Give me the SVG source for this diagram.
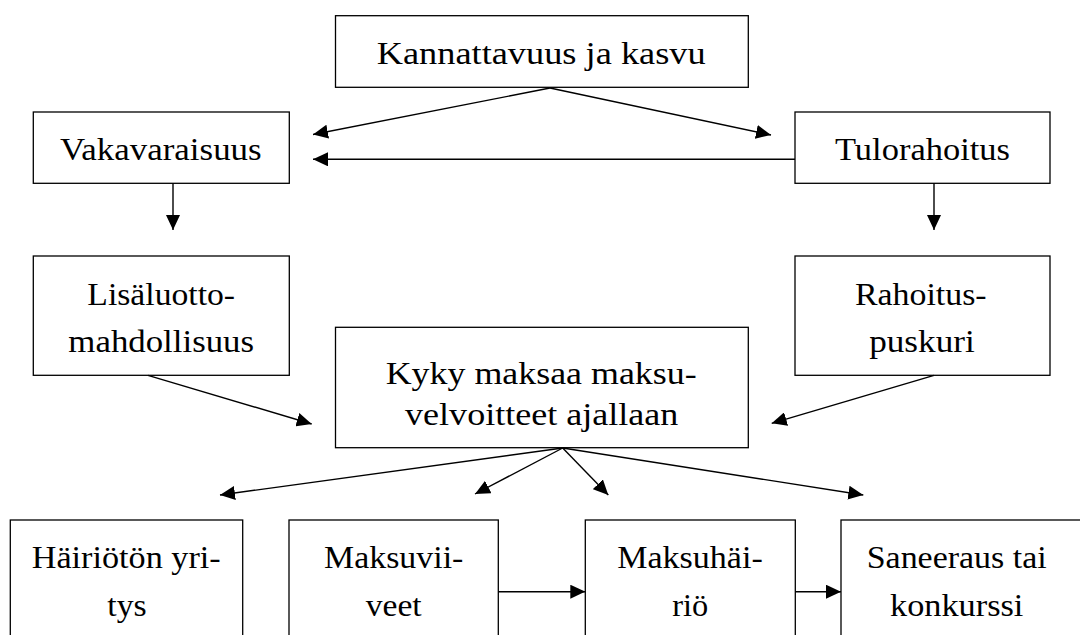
<svg xmlns="http://www.w3.org/2000/svg" width="1080" height="635" viewBox="0 0 1080 635">
<defs>
<marker id="ah" markerWidth="15" markerHeight="14" refX="15" refY="7" orient="auto" markerUnits="userSpaceOnUse">
<path d="M0,0 L15,7 L0,14 Z" fill="#000"/>
</marker>
<style>
.box{fill:#fff;stroke:#000;stroke-width:1.3}
.t{font-family:"Liberation Serif","Times New Roman",serif;font-size:32px;fill:#000;text-anchor:middle}
.c{stroke:#000;stroke-width:1.4;fill:none;marker-end:url(#ah)}
</style>
</defs>
<rect width="1080" height="635" fill="#fff"/>
<g id="n-kannattavuus"><rect class="box" x="335.5" y="15.7" width="412.8" height="71.6"/><text class="t" x="541.2" y="64" textLength="329" lengthAdjust="spacingAndGlyphs">Kannattavuus ja kasvu</text></g>
<g id="n-vakavaraisuus"><rect class="box" x="33.3" y="112" width="256" height="71.3"/><text class="t" x="160.8" y="160" textLength="201.7" lengthAdjust="spacingAndGlyphs">Vakavaraisuus</text></g>
<g id="n-tulorahoitus"><rect class="box" x="795" y="112" width="255" height="71.3"/><text class="t" x="922.5" y="160" textLength="175" lengthAdjust="spacingAndGlyphs">Tulorahoitus</text></g>
<g id="n-lisaluotto"><rect class="box" x="33.3" y="256" width="256" height="119.3"/><text class="t" x="161.2" y="305" textLength="147.7" lengthAdjust="spacingAndGlyphs">Lisäluotto-</text><text class="t" x="161.2" y="351.7" textLength="185.7" lengthAdjust="spacingAndGlyphs">mahdollisuus</text></g>
<g id="n-rahoitus"><rect class="box" x="795" y="256" width="255" height="119.3"/><text class="t" x="920.8" y="305" textLength="131.7" lengthAdjust="spacingAndGlyphs">Rahoitus-</text><text class="t" x="922" y="351.7" textLength="105.7" lengthAdjust="spacingAndGlyphs">puskuri</text></g>
<g id="n-kyky"><rect class="box" x="335.5" y="327.3" width="412.8" height="120.4"/><text class="t" x="541.2" y="384.3" textLength="311" lengthAdjust="spacingAndGlyphs">Kyky maksaa maksu-</text><text class="t" x="541.7" y="425" textLength="273.3" lengthAdjust="spacingAndGlyphs">velvoitteet ajallaan</text></g>
<g id="n-hairioton"><rect class="box" x="10.3" y="520" width="232.4" height="130"/><text class="t" x="126.2" y="568.3" textLength="189" lengthAdjust="spacingAndGlyphs">Häiriötön yri-</text><text class="t" x="127" y="616" textLength="39.4" lengthAdjust="spacingAndGlyphs">tys</text></g>
<g id="n-maksuviiveet"><rect class="box" x="289" y="520" width="209.3" height="130"/><text class="t" x="393.7" y="568.3" textLength="139.3" lengthAdjust="spacingAndGlyphs">Maksuvii-</text><text class="t" x="393.7" y="616" textLength="56" lengthAdjust="spacingAndGlyphs">veet</text></g>
<g id="n-maksuhairio"><rect class="box" x="585.3" y="520" width="210" height="130"/><text class="t" x="690" y="568.3" textLength="145.4" lengthAdjust="spacingAndGlyphs">Maksuhäi-</text><text class="t" x="690.3" y="616" textLength="36" lengthAdjust="spacingAndGlyphs">riö</text></g>
<g id="n-saneeraus"><rect class="box" x="841" y="520" width="250" height="130"/><text class="t" x="956.7" y="568.3" textLength="180" lengthAdjust="spacingAndGlyphs">Saneeraus tai</text><text class="t" x="956.7" y="616" textLength="133.3" lengthAdjust="spacingAndGlyphs">konkurssi</text></g>
<g id="connectors">
<line class="c" x1="550" y1="88" x2="313" y2="134.5"/>
<line class="c" x1="550" y1="88" x2="771" y2="135"/>
<line class="c" x1="795" y1="159.3" x2="313" y2="159.3"/>
<line class="c" x1="173" y1="183.3" x2="173" y2="230"/>
<line class="c" x1="934" y1="183.3" x2="934" y2="230"/>
<line class="c" x1="148" y1="375.3" x2="311.7" y2="424"/>
<line class="c" x1="934" y1="375.3" x2="771.7" y2="423.3"/>
<line class="c" x1="562.7" y1="448" x2="220" y2="495"/>
<line class="c" x1="562.7" y1="448" x2="475" y2="494"/>
<line class="c" x1="562.7" y1="448" x2="608.3" y2="495"/>
<line class="c" x1="562.7" y1="448" x2="863.3" y2="495"/>
<line class="c" x1="498.3" y1="591.7" x2="585.3" y2="591.7"/>
<line class="c" x1="795.3" y1="591.7" x2="841" y2="591.7"/>
</g>
</svg>
